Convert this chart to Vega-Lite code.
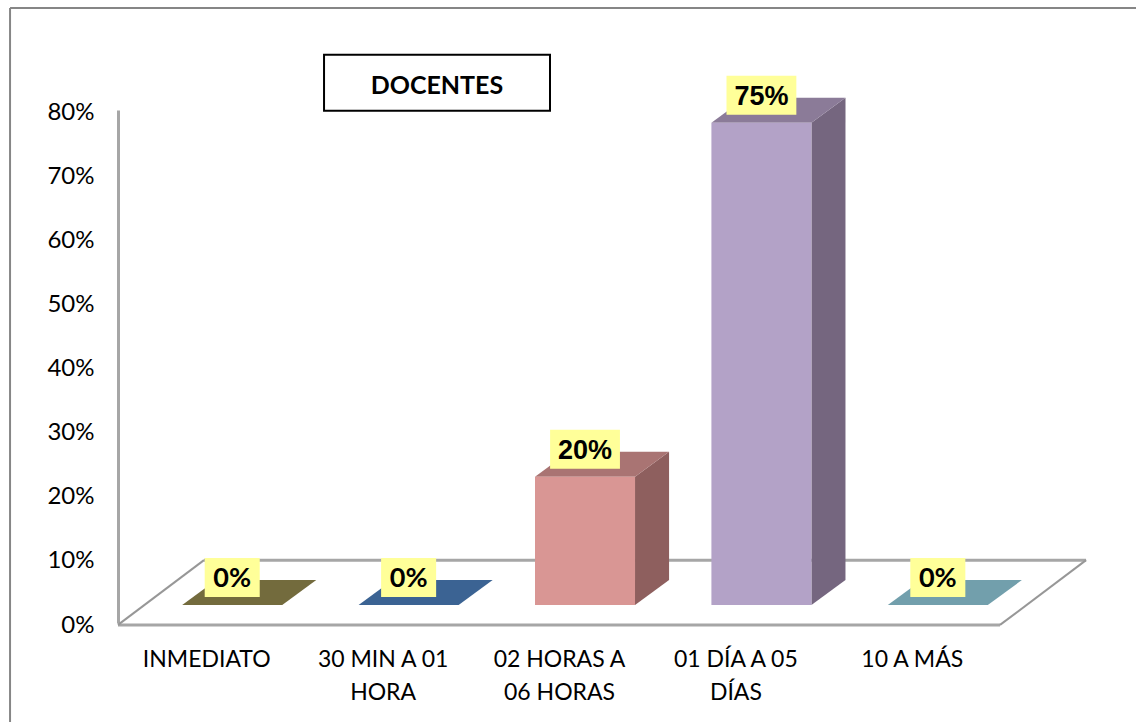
{
"$schema":"https://vega.github.io/schema/vega-lite/v6.json",
"width":882,"height":513,"autosize":{"type":"none"},
"padding":{"left":118,"top":110,"right":136,"bottom":99},
"background":"white",
"view":{"stroke":null},
"config":{"font":"Lato"},
"data":{"values":[
{"categoria":"INMEDIATO","orden":1,"valor":0},
{"categoria":"30 MIN A 01 HORA","orden":2,"valor":0},
{"categoria":"02 HORAS A 06 HORAS","orden":3,"valor":20},
{"categoria":"01 DÍA A 05 DÍAS","orden":4,"valor":75.2},
{"categoria":"10 A MÁS","orden":5,"valor":0}
]},
"transform":[
{"calculate":"datum.orden-0.636","as":"xf0"},
{"calculate":"datum.xf0+0.567","as":"xf1"},
{"calculate":"2.8","as":"yb"},
{"calculate":"2.8+datum.valor","as":"yt"},
{"calculate":"(datum.xf0+datum.xf1)/2","as":"xc"},
{"calculate":"datum.valor>0?0.198:0.156","as":"hw"},
{"calculate":"datum.xc-datum.hw","as":"lx0"},
{"calculate":"datum.xc+datum.hw","as":"lx1"},
{"calculate":"datum.yt+4.3","as":"ly"},
{"calculate":"datum.ly-3.04","as":"ly0"},
{"calculate":"datum.ly+3.04","as":"ly1"},
{"calculate":"round(datum.valor)+'%'","as":"etiqueta"}
],
"layer":[
{"data":{"values":[{}]},"mark":{"type":"rule","color":"#868686","strokeWidth":2},
 "encoding":{"x":{"datum":-0.612,"type":"quantitative","title":null,"scale":{"domain":[0,5]}},"x2":{"datum":5.8},"y":{"datum":95.9,"type":"quantitative","title":null,"scale":{"domain":[0,80]}}}},
{"data":{"values":[{}]},"mark":{"type":"rule","color":"#868686","strokeWidth":2},
 "encoding":{"x":{"datum":-0.612,"type":"quantitative","title":null,"scale":{"domain":[0,5]}},"y":{"datum":95.9,"type":"quantitative","title":null,"scale":{"domain":[0,80]}},"y2":{"datum":-16}}},
{"data":{"values":[{}]},"mark":{"type":"rule","color":"#A6A6A6","strokeWidth":3},
 "encoding":{"x":{"datum":0,"type":"quantitative","title":null,"scale":{"domain":[0,5]}},"x2":{"datum":5},"y":{"datum":-0.3,"type":"quantitative","title":null,"scale":{"domain":[0,80]}}}},
{"data":{"values":[{}]},"mark":{"type":"rule","color":"#A6A6A6","strokeWidth":3},
 "encoding":{"x":{"datum":0.4875,"type":"quantitative","title":null,"scale":{"domain":[0,5]}},"x2":{"datum":5.488},"y":{"datum":9.8,"type":"quantitative","title":null,"scale":{"domain":[0,80]}}}},
{"data":{"values":[{}]},"mark":{"type":"rule","color":"#979797","strokeWidth":2},
 "encoding":{"x":{"datum":0,"type":"quantitative","title":null,"scale":{"domain":[0,5]}},"x2":{"datum":0.4875},"y":{"datum":-0.3,"type":"quantitative","title":null,"scale":{"domain":[0,80]}},"y2":{"datum":9.8}}},
{"data":{"values":[{}]},"mark":{"type":"rule","color":"#979797","strokeWidth":2},
 "encoding":{"x":{"datum":5,"type":"quantitative","title":null,"scale":{"domain":[0,5]}},"x2":{"datum":5.488},"y":{"datum":-0.3,"type":"quantitative","title":null,"scale":{"domain":[0,80]}},"y2":{"datum":9.8}}},
{"transform":[{"calculate":"[0,1]","as":"k"},{"flatten":["k"]},
  {"calculate":"datum.xf1+datum.k*0.193","as":"sx"},
  {"calculate":"datum.yb+datum.k*3.9","as":"sy0"},
  {"calculate":"datum.yt+datum.k*3.9","as":"sy1"}],
 "mark":{"type":"area"},
 "encoding":{
  "x":{"field":"sx","type":"quantitative","title":null,"scale":{"domain":[0,5],"nice":false},
   "axis":{"title":null,"values":[0.5,1.5,2.5,3.5,4.5],"domain":false,"ticks":false,"grid":false,"labelAngle":0,"labelFont":"Lato","labelFontSize":23,"labelColor":"#000000","labelPadding":25,"labelLineHeight":33,"labelBaseline":"top","labelOverlap":false,"labelFlush":false,
    "labelExpr":"[['INMEDIATO'],['30 MIN A 01','HORA'],['02 HORAS A','06 HORAS'],['01 DÍA A 05','DÍAS'],['10 A MÁS']][floor(datum.value)]"}},
  "y":{"field":"sy0","type":"quantitative","title":null,"stack":null,"scale":{"domain":[0,80],"nice":false},
   "axis":{"title":null,"values":[0,10,20,30,40,50,60,70,80],"domainColor":"#A6A6A6","domainWidth":3,"ticks":false,"grid":false,"labelFont":"Lato","labelFontSize":24,"labelColor":"#000000","labelPadding":24,"labelOffset":2,"labelExpr":"datum.value+'%'"}},
  "y2":{"field":"sy1"},
  "detail":{"field":"categoria"},
  "color":{"field":"categoria","type":"nominal","legend":null,"scale":{"domain":["INMEDIATO","30 MIN A 01 HORA","02 HORAS A 06 HORAS","01 DÍA A 05 DÍAS","10 A MÁS"],"range":["#5C5531","#2F4F76","#8E5F5E","#75667F","#5B7F8A"]}}
 }},
{"transform":[{"calculate":"[0,1]","as":"k"},{"flatten":["k"]},
  {"calculate":"datum.xf0+datum.k*0.193","as":"tx0"},
  {"calculate":"datum.xf1+datum.k*0.193","as":"tx1"},
  {"calculate":"datum.yt+datum.k*3.9","as":"ty"}],
 "mark":{"type":"area","orient":"horizontal"},
 "encoding":{
  "y":{"field":"ty","type":"quantitative","title":null,"scale":{"domain":[0,80]}},
  "x":{"field":"tx0","type":"quantitative","stack":null,"title":null,"scale":{"domain":[0,5]}},
  "x2":{"field":"tx1"},
  "detail":{"field":"categoria"},
  "color":{"field":"categoria","type":"nominal","legend":null,"scale":{"domain":["INMEDIATO","30 MIN A 01 HORA","02 HORAS A 06 HORAS","01 DÍA A 05 DÍAS","10 A MÁS"],"range":["#736B3D","#3B6393","#A97473","#8B7B98","#729FAC"]}}
 }},
{"mark":{"type":"rect"},
 "encoding":{
  "x":{"field":"xf0","type":"quantitative","title":null,"scale":{"domain":[0,5]}},
  "x2":{"field":"xf1"},
  "y":{"field":"yb","type":"quantitative","title":null,"scale":{"domain":[0,80]}},
  "y2":{"field":"yt"},
  "color":{"field":"categoria","type":"nominal","legend":null,"scale":{"domain":["INMEDIATO","30 MIN A 01 HORA","02 HORAS A 06 HORAS","01 DÍA A 05 DÍAS","10 A MÁS"],"range":["#948A54","#558ED5","#D99694","#B3A2C7","#93CDDD"]}}
 }},
{"mark":{"type":"rect","color":"#FFFF99"},
 "encoding":{
  "x":{"field":"lx0","type":"quantitative","title":null,"scale":{"domain":[0,5]}},
  "x2":{"field":"lx1"},
  "y":{"field":"ly0","type":"quantitative","title":null,"scale":{"domain":[0,80]}},
  "y2":{"field":"ly1"}
 }},
{"transform":[{"filter":"datum.valor>0"}],
 "mark":{"type":"text","font":"Liberation Sans","fontWeight":"bold","fontSize":27,"color":"#000000","baseline":"middle","dy":2},
 "encoding":{
  "x":{"field":"xc","type":"quantitative","title":null,"scale":{"domain":[0,5]}},
  "y":{"field":"ly","type":"quantitative","title":null,"scale":{"domain":[0,80]}},
  "text":{"field":"etiqueta"}
 }},
{"transform":[{"filter":"datum.valor==0"}],
 "mark":{"type":"text","font":"Lato","fontWeight":"bold","fontSize":27,"color":"#000000","baseline":"middle","dy":2},
 "encoding":{
  "x":{"field":"xc","type":"quantitative","title":null,"scale":{"domain":[0,5]}},
  "y":{"field":"ly","type":"quantitative","title":null,"scale":{"domain":[0,80]}},
  "text":{"field":"etiqueta"}
 }},
{"data":{"values":[{}]},"mark":{"type":"rect","fill":"white","stroke":"#000000","strokeWidth":2},
 "encoding":{"x":{"datum":1.168,"type":"quantitative","title":null,"scale":{"domain":[0,5]}},"x2":{"datum":2.449},"y":{"datum":88.6,"type":"quantitative","title":null,"scale":{"domain":[0,80]}},"y2":{"datum":79.9}}},
{"data":{"values":[{"titulo":"DOCENTES"}]},"mark":{"type":"text","font":"Lato","fontWeight":"bold","fontSize":25,"color":"#000000","baseline":"middle"},
 "encoding":{"x":{"datum":1.808,"type":"quantitative","title":null,"scale":{"domain":[0,5]}},"y":{"datum":83.7,"type":"quantitative","title":null,"scale":{"domain":[0,80]}},"text":{"field":"titulo"}}}
],
"resolve":{"scale":{"color":"independent"}}
}
